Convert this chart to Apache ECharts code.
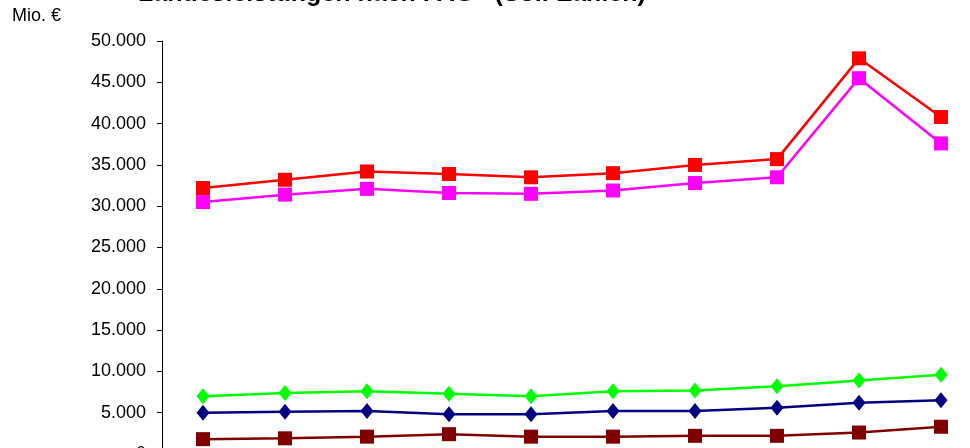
<!DOCTYPE html>
<html>
<head>
<meta charset="utf-8">
<script src="https://cdn.jsdelivr.net/npm/echarts@6/dist/echarts.min.js"></script>
<style>
  html, body { margin: 0; padding: 0; background: #fff; }
  #chart { width: 970px; height: 448px; }
</style>
</head>
<body>
<div id="chart"></div>
<script>
// Jahre (Kategorien der x-Achse)
const years = ['1999', '2000', '2001', '2002', '2003', '2004', '2005', '2006', '2007', '2008'];

// Landesleistungen in Mio. €
const seriesRed     = [32200, 33200, 34200, 33900, 33500, 34000, 35000, 35700, 47900, 40800];
const seriesMagenta = [30500, 31400, 32100, 31600, 31500, 31900, 32800, 33500, 45500, 37600];
const seriesGreen   = [7000, 7400, 7600, 7300, 7000, 7600, 7700, 8200, 8900, 9600];
const seriesNavy    = [5000, 5100, 5200, 4800, 4800, 5200, 5200, 5600, 6200, 6500];
const seriesDarkRed = [1800, 1900, 2100, 2400, 2100, 2100, 2200, 2200, 2600, 3300];

const yMin = 0, yMax = 50000, yStep = 5000;

function fmtThousands(v) {
  return String(v).replace(/\B(?=(\d{3})+(?!\d))/g, '.');
}

const font = 'Liberation Sans, Arial, sans-serif';

function lineSeries(data, color, symbol, size) {
  return {
    type: 'line',
    data: data,
    symbol: symbol,
    symbolSize: size,
    showSymbol: true,
    lineStyle: { color: color, width: 2.5 },
    itemStyle: { color: color, borderWidth: 0 },
    emphasis: { disabled: true },
    z: 3
  };
}

const chart = echarts.init(document.getElementById('chart'), null, { renderer: 'canvas' });
chart.setOption({
  animation: false,
  backgroundColor: '#ffffff',
  graphic: [
    {
      type: 'text',
      left: 138,
      top: -18,
      style: {
        text: '{t|Landesleistungen nach FAG}{s|1)}{t| (Soll-Zahlen)}',
        rich: {
          t: { fontFamily: font, fontWeight: 'bold', fontSize: 25, fill: '#000' },
          s: { fontFamily: font, fontWeight: 'bold', fontSize: 15, fill: '#000', verticalAlign: 'top' }
        }
      }
    },
    {
      type: 'text',
      left: 12,
      top: 7,
      style: { text: 'Mio. €', fontFamily: font, fontSize: 18, fill: '#000' }
    }
  ],
  grid: { left: 162, right: -12, top: 41, bottom: -6, containLabel: false, outerBoundsMode: 'none' },
  xAxis: {
    type: 'category',
    data: years,
    boundaryGap: true,
    axisLine: { show: true, lineStyle: { color: '#000', width: 1 } },
    axisTick: { show: true, lineStyle: { color: '#000' } },
    axisLabel: { fontFamily: font, fontSize: 18, color: '#000' },
    splitLine: { show: false }
  },
  yAxis: {
    type: 'value',
    min: yMin,
    max: yMax,
    interval: yStep,
    axisLine: { show: true, lineStyle: { color: '#000', width: 1 } },
    axisTick: { show: true, length: 5, lineStyle: { color: '#000' } },
    axisLabel: { fontFamily: font, fontSize: 18, color: '#000', margin: 16, formatter: fmtThousands },
    splitLine: { show: false }
  },
  series: [
    lineSeries(seriesRed, '#ff0000', 'rect', 14),
    lineSeries(seriesMagenta, '#ff00ff', 'rect', 14),
    lineSeries(seriesGreen, '#00ff00', 'diamond', [13, 16]),
    lineSeries(seriesNavy, '#000080', 'diamond', [13, 16]),
    lineSeries(seriesDarkRed, '#800000', 'rect', 14)
  ]
});
</script>
</body>
</html>
